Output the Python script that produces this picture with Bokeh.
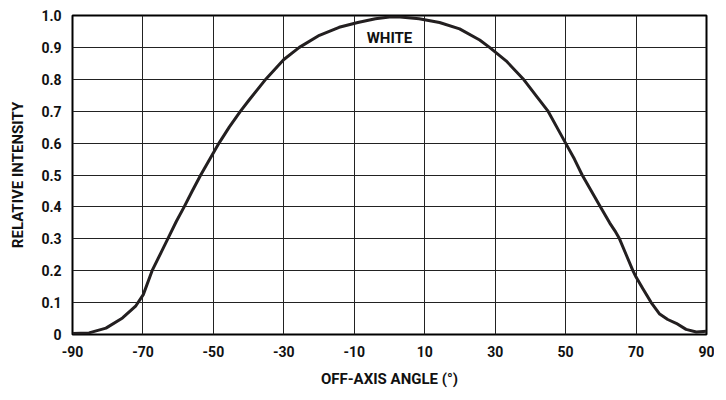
from bokeh.plotting import figure
from bokeh.models import FixedTicker, Range1d, Label, PrintfTickFormatter
from bokeh.embed import file_html
from bokeh.resources import INLINE

# Data
angles = [-90, -85.3, -80.5, -75.8, -72, -69.9, -67.4, -64.9, -62.5, -60.5, -58.3,
          -56, -53.6, -51, -48.4, -45.5, -42.3, -39.8, -35, -30, -25.6, -19.9, -14.3, -9, -4,
          0, 3, 8.4, 14.2, 19.9, 25.6, 28.4, 33.1, 37.9, 41.6, 44.9, 47.5, 50, 52.5, 54.7,
          57.3, 59.9, 62.5, 64, 65.3, 67.2, 69.1, 70, 71.9, 74.3, 76.7, 79, 81.4, 84.2, 87.1, 90]
intensity = [0.003, 0.005, 0.02, 0.052, 0.09, 0.125, 0.2, 0.256, 0.31, 0.355, 0.4,
             0.45, 0.5, 0.55, 0.6, 0.65, 0.7, 0.736, 0.802, 0.862, 0.9, 0.938, 0.963, 0.978, 0.99,
             0.995, 0.995, 0.99, 0.978, 0.958, 0.923, 0.9, 0.858, 0.802, 0.749, 0.702, 0.65, 0.6, 0.55, 0.5,
             0.45, 0.4, 0.35, 0.325, 0.3, 0.25, 0.2, 0.18, 0.144, 0.1, 0.064, 0.047, 0.035, 0.016, 0.008, 0.01]

x_ticks = [-90, -70, -50, -30, -10, 10, 30, 50, 70, 90]
x_grid = [-70, -50, -30, -10, 10, 30, 50, 70]
y_ticks = [0, 0.1, 0.2, 0.3, 0.4, 0.5, 0.6, 0.7, 0.8, 0.9, 1.0]
y_grid = [0.1, 0.2, 0.3, 0.4, 0.5, 0.6, 0.7, 0.8, 0.9]
series_label = "WHITE"

FONT = "Roboto"

p = figure(frame_width=634, frame_height=319,
           x_range=Range1d(-90, 90), y_range=Range1d(0, 1),
           output_backend="svg", toolbar_location=None,
           min_border_left=72, min_border_right=8, min_border_top=15, min_border_bottom=50)

p.outline_line_color = "black"
p.outline_line_width = 2
p.background_fill_color = "white"
p.border_fill_color = "white"

p.xaxis.ticker = FixedTicker(ticks=x_ticks)
p.yaxis.ticker = FixedTicker(ticks=y_ticks)
p.xgrid.ticker = FixedTicker(ticks=x_grid)
p.ygrid.ticker = FixedTicker(ticks=y_grid)
for g in (p.xgrid, p.ygrid):
    g.grid_line_color = "#222222"
    g.grid_line_width = 1
    g.grid_line_alpha = 1

p.xaxis.formatter = PrintfTickFormatter(format="%d")
p.yaxis.major_label_overrides = {0: "0", 1: "1.0"}

for ax in (p.xaxis, p.yaxis):
    ax.axis_line_color = None
    ax.major_tick_line_color = None
    ax.minor_tick_line_color = None
    ax.major_label_text_font = FONT
    ax.major_label_text_font_style = "bold"
    ax.major_label_text_font_size = "14px"
    ax.major_label_text_color = "#111111"
    ax.axis_label_text_font = FONT
    ax.axis_label_text_font_style = "bold"
    ax.axis_label_text_font_size = "15px"
    ax.axis_label_text_color = "#111111"

p.xaxis.axis_label = "OFF-AXIS ANGLE (°)"
p.yaxis.axis_label = "RELATIVE INTENSITY"
p.xaxis.major_label_standoff = 5
p.yaxis.major_label_standoff = 5
p.xaxis.axis_label_standoff = 10
p.yaxis.axis_label_standoff = 11

p.line(angles, intensity, line_width=3, line_color="#231f20", line_join="round")

p.add_layout(Label(x=0, y=0.93, text=series_label, text_align="center", text_baseline="middle",
                   text_font=FONT, text_font_style="bold",
                   text_font_size="15px", text_color="#111111"))

open("out.html", "w").write(file_html(p, INLINE))
